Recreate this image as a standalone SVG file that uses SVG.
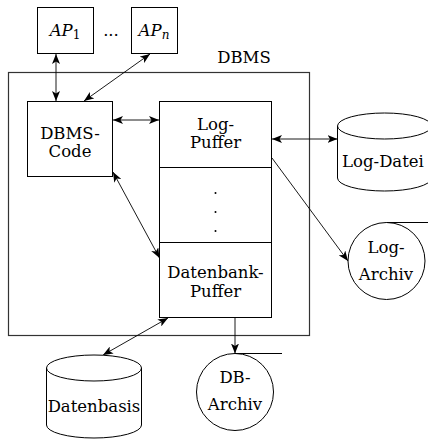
<svg xmlns="http://www.w3.org/2000/svg" width="428" height="439" viewBox="0 0 428 439">
  <style>
    .box { fill: none; stroke: #000; stroke-width: 1; }
    .frame { fill: none; stroke: #333; stroke-width: 1.2; }
    .conn { fill: none; stroke: #000; stroke-width: 0.9; }
    .lbl { font-size: 16.5px; fill: #000; text-anchor: middle; }
    .it { font-style: italic; }
    .sub { font-size: 12px; font-style: normal; }
    .subit { font-size: 12px; font-style: italic; }
  </style>
  <defs>
    <marker id="arrow" viewBox="0 0 10 8" refX="10" refY="4" markerWidth="10" markerHeight="8" markerUnits="userSpaceOnUse" orient="auto-start-reverse">
      <path d="M0,0 L10,4 L0,8 L2.5,4 Z" fill="#000"/>
    </marker>
  </defs>

  <g font-family="DejaVu Serif, serif">
  <!-- DBMS frame -->
  <g id="dbms">
    <rect class="frame" x="8.5" y="72.5" width="301" height="263"/>
    <text class="lbl" x="244" y="63">DBMS</text>
  </g>

  <!-- application programs -->
  <g id="ap1">
    <rect class="box" x="37.5" y="7.5" width="56" height="46"/>
    <text class="lbl" x="65" y="36"><tspan class="it">AP</tspan><tspan class="sub" dy="3">1</tspan></text>
  </g>
  <g id="dots">
    <text class="lbl" x="111" y="36">...</text>
  </g>
  <g id="apn">
    <rect class="box" x="131.5" y="7.5" width="46" height="46"/>
    <text class="lbl" x="154" y="36"><tspan class="it">AP</tspan><tspan class="subit" dy="3">n</tspan></text>
  </g>

  <!-- DBMS code -->
  <g id="dbms-code">
    <rect class="box" x="27.5" y="101.5" width="85" height="75"/>
    <text class="lbl" x="70" y="139">DBMS-</text>
    <text class="lbl" x="70" y="157">Code</text>
  </g>

  <!-- buffer column -->
  <g id="log-puffer">
    <rect class="box" x="159.5" y="101.5" width="112" height="66"/>
    <text class="lbl" x="215.5" y="130">Log-</text>
    <text class="lbl" x="215.5" y="148">Puffer</text>
  </g>
  <g id="puffer-gap">
    <rect class="box" x="159.5" y="167.5" width="112" height="75"/>
    <circle cx="215.5" cy="193" r="1" fill="#000"/>
    <circle cx="215.5" cy="212" r="1" fill="#000"/>
    <circle cx="215.5" cy="231" r="1" fill="#000"/>
  </g>
  <g id="datenbank-puffer">
    <rect class="box" x="159.5" y="242.5" width="112" height="75"/>
    <text class="lbl" x="215.5" y="278">Datenbank-</text>
    <text class="lbl" x="215.5" y="297">Puffer</text>
  </g>

  <!-- log file -->
  <g id="log-datei">
    <path class="box" d="M337.5,126 L337.5,178 A47,13 0 0 0 431.5,178 L431.5,126"/>
    <ellipse class="box" cx="384.5" cy="126" rx="47" ry="13"/>
    <text class="lbl" x="383" y="167">Log-Datei</text>
  </g>

  <!-- log archive -->
  <g id="log-archiv">
    <circle class="box" cx="386.5" cy="261" r="38.5"/>
    <line class="box" x1="386.5" y1="222.5" x2="428" y2="222.5"/>
    <text class="lbl" x="386" y="253">Log-</text>
    <text class="lbl" x="386" y="280">Archiv</text>
  </g>

  <!-- database -->
  <g id="datenbasis">
    <path class="box" d="M46.5,368 L46.5,425 A47.5,13 0 0 0 141.5,425 L141.5,368"/>
    <ellipse class="box" cx="94" cy="368" rx="47.5" ry="13"/>
    <text class="lbl" x="94" y="412">Datenbasis</text>
  </g>

  <!-- database archive -->
  <g id="db-archiv">
    <circle class="box" cx="235" cy="392" r="38.5"/>
    <line class="box" x1="235" y1="353.5" x2="282" y2="353.5"/>
    <text class="lbl" x="235" y="383">DB-</text>
    <text class="lbl" x="235" y="410">Archiv</text>
  </g>
  </g>

  <!-- connectors -->
  <g id="connectors">
    <line class="conn" x1="56" y1="54" x2="56" y2="101" marker-start="url(#arrow)" marker-end="url(#arrow)"/>
    <line class="conn" x1="150" y1="54" x2="84" y2="101" marker-start="url(#arrow)" marker-end="url(#arrow)"/>
    <line class="conn" x1="113" y1="120" x2="159" y2="120" marker-start="url(#arrow)" marker-end="url(#arrow)"/>
    <line class="conn" x1="113" y1="172" x2="159.5" y2="258" marker-start="url(#arrow)" marker-end="url(#arrow)"/>
    <line class="conn" x1="272" y1="139" x2="337.5" y2="139" marker-start="url(#arrow)" marker-end="url(#arrow)"/>
    <line class="conn" x1="272" y1="158" x2="348" y2="261" marker-end="url(#arrow)"/>
    <line class="conn" x1="168" y1="318" x2="103" y2="355" marker-start="url(#arrow)" marker-end="url(#arrow)"/>
    <line class="conn" x1="235" y1="318" x2="235" y2="353.5" marker-end="url(#arrow)"/>
  </g>
</svg>
